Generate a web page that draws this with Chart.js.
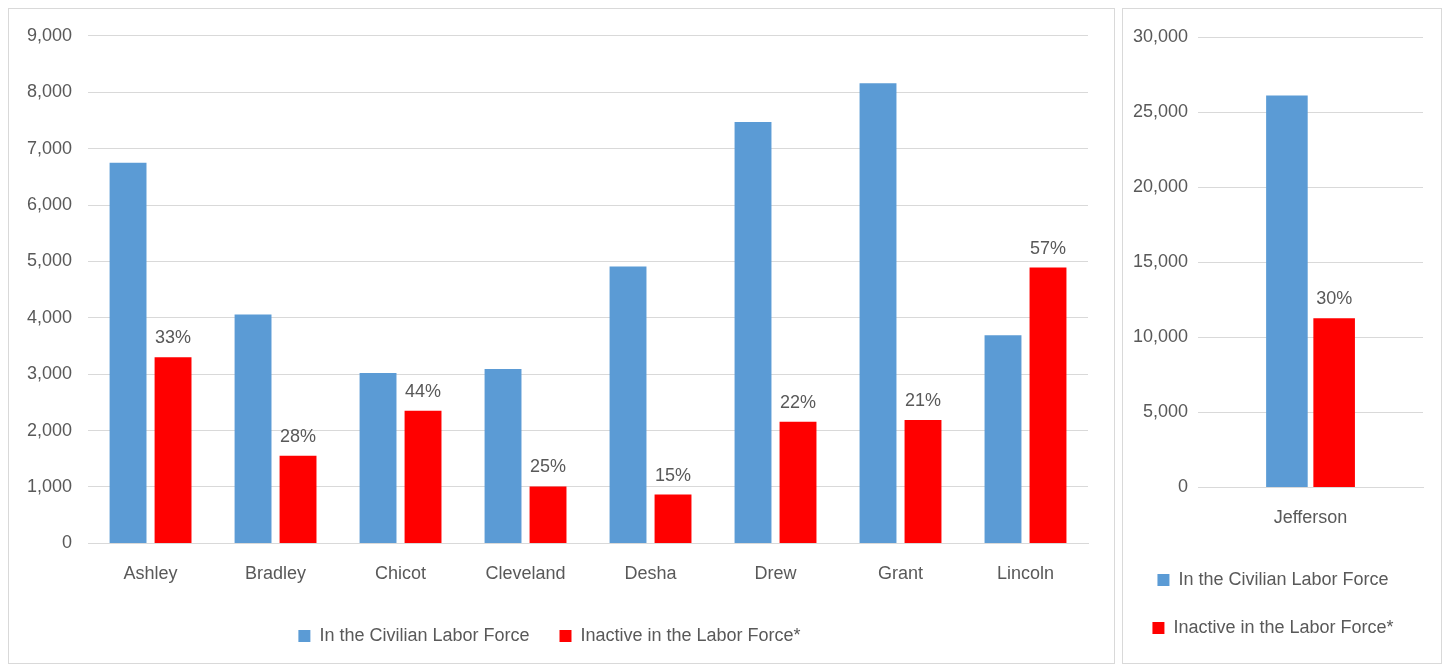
<!DOCTYPE html>
<html lang="en">
<head>
<meta charset="UTF-8">
<title>Labor Force</title>
<style>
    body { margin: 0; background: #fff; font-family: 'Liberation Sans Narrow', Arial, sans-serif; }
    .panel { position: absolute; border: 1px solid #d9d9d9; background: #fff; }
    #left { left: 8px; top: 8px; width: 1105px; height: 654px; }
    #right { left: 1122px; top: 8px; width: 318px; height: 654px; }
</style>
</head>
<body>
<div class="panel" id="left"><canvas id="leftChart"></canvas></div>
<div class="panel" id="right"><canvas id="rightChart"></canvas></div>
<script src="https://cdn.jsdelivr.net/npm/chart.js"></script>
<script>
    const counties = ['Ashley', 'Bradley', 'Chicot', 'Cleveland', 'Desha', 'Drew', 'Grant', 'Lincoln'];
    const laborForce = [6750, 4060, 3020, 3090, 4910, 7470, 8160, 3690];
    const inactive = [3300, 1555, 2350, 1010, 865, 2155, 2190, 4890];
    const inactivePct = ['33%', '28%', '44%', '25%', '15%', '22%', '21%', '57%'];

    const bigCounty = ['Jefferson'];
    const bigLabor = [26100];
    const bigInactive = [11270];
    const bigPct = ['30%'];

    const font = { family: "'Liberation Sans Narrow', Arial, sans-serif", size: 18 };
    const grey = '#595959';

    // writes the percent over each red bar
    const pctLabels = {
        id: 'pctLabels',
        afterDatasetsDraw(chart, args, opts) {
            const ctx = chart.ctx;
            const meta = chart.getDatasetMeta(1);
            ctx.save();
            ctx.font = '18px ' + font.family;
            ctx.fillStyle = grey;
            ctx.textAlign = 'center';
            ctx.textBaseline = 'bottom';
            meta.data.forEach((bar, i) => {
                ctx.fillText(opts.labels[i], bar.x, bar.y - 10);
            });
            ctx.restore();
        }
    };

    function makeChart(id, labels, blue, red, pct, max, step, pad, catPct, barPct, yPad) {
        new Chart(document.getElementById(id), {
            type: 'bar',
            data: {
                labels: labels,
                datasets: [
                    { label: 'In the Civilian Labor Force', data: blue, backgroundColor: '#5b9bd5' },
                    { label: 'Inactive in the Labor Force*', data: red, backgroundColor: '#ff0000' }
                ]
            },
            options: {
                responsive: true,
                maintainAspectRatio: false,
                animation: false,
                datasets: { bar: { categoryPercentage: catPct, barPercentage: barPct } },
                layout: { padding: pad },
                scales: {
                    x: {
                        grid: { display: false },
                        border: { color: '#d9d9d9' },
                        ticks: { color: grey, font: font, padding: 12 }
                    },
                    y: {
                        min: 0, max: max,
                        border: { display: false },
                        grid: { color: '#d9d9d9', drawTicks: false },
                        ticks: { stepSize: step, color: grey, font: font, padding: yPad,
                                 callback: v => v.toLocaleString('en-US') }
                    }
                },
                plugins: {
                    legend: {
                        position: 'bottom',
                        labels: { color: grey, font: font, boxWidth: 12, boxHeight: 12, padding: 30 }
                    },
                    tooltip: { enabled: false },
                    pctLabels: { labels: pct }
                }
            },
            plugins: [pctLabels]
        });
    }

    makeChart('leftChart', counties, laborForce, inactive, inactivePct, 9000, 1000,
              { left: 2, right: 26, top: 20, bottom: 8 }, 0.72, 0.82, 16);
    makeChart('rightChart', bigCounty, bigLabor, bigInactive, bigPct, 30000, 5000,
              { left: 0, right: 18, top: 28, bottom: 16 }, 0.42, 0.88, 10);
</script>
</body>
</html>
